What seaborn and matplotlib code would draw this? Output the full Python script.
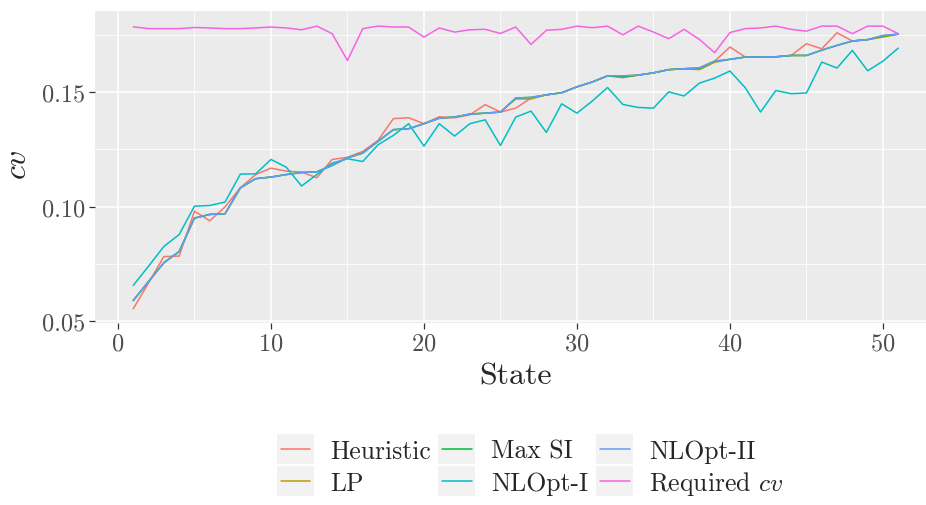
import numpy as np
import pandas as pd
import matplotlib
matplotlib.use("Agg")
import matplotlib.pyplot as plt
import seaborn as sns
from matplotlib.patches import Rectangle
from matplotlib.lines import Line2D
from matplotlib.legend_handler import HandlerBase
from matplotlib.ticker import FixedLocator

states = list(range(1, 52))

heuristic = [0.0554, 0.0667, 0.0782, 0.0784, 0.0980, 0.0938, 0.0999, 0.1082, 0.1140, 0.1168,
             0.1155, 0.1151, 0.1126, 0.1206, 0.1215, 0.1241, 0.1289, 0.1384, 0.1388, 0.1362,
             0.1392, 0.1388, 0.1401, 0.1445, 0.1413, 0.1430, 0.1474, 0.1488, 0.1497, 0.1523,
             0.1544, 0.1571, 0.1571, 0.1574, 0.1584, 0.1598, 0.1602, 0.1606, 0.1635, 0.1697,
             0.1653, 0.1653, 0.1654, 0.1660, 0.1711, 0.1689, 0.1759, 0.1723, 0.1729, 0.1747, 0.1753]

lp = [0.0590, 0.0673, 0.0755, 0.0804, 0.0950, 0.0966, 0.0969, 0.1082, 0.1122, 0.1129,
      0.1140, 0.1149, 0.1152, 0.1180, 0.1213, 0.1234, 0.1285, 0.1336, 0.1340, 0.1362,
      0.1386, 0.1391, 0.1404, 0.1408, 0.1413, 0.1470, 0.1470, 0.1488, 0.1497, 0.1523,
      0.1544, 0.1571, 0.1563, 0.1574, 0.1584, 0.1598, 0.1602, 0.1598, 0.1630, 0.1643,
      0.1653, 0.1653, 0.1654, 0.1660, 0.1660, 0.1683, 0.1704, 0.1723, 0.1729, 0.1740, 0.1753]

max_si = [0.0590, 0.0673, 0.0755, 0.0804, 0.0950, 0.0966, 0.0969, 0.1082, 0.1122, 0.1129,
          0.1140, 0.1149, 0.1152, 0.1180, 0.1213, 0.1234, 0.1285, 0.1336, 0.1340, 0.1362,
          0.1386, 0.1391, 0.1404, 0.1408, 0.1413, 0.1474, 0.1477, 0.1488, 0.1497, 0.1523,
          0.1544, 0.1571, 0.1567, 0.1574, 0.1584, 0.1598, 0.1602, 0.1604, 0.1635, 0.1643,
          0.1653, 0.1653, 0.1654, 0.1660, 0.1660, 0.1683, 0.1704, 0.1723, 0.1729, 0.1745, 0.1753]

nlopt_1 = [0.0656, 0.0740, 0.0826, 0.0878, 0.1002, 0.1005, 0.1020, 0.1142, 0.1143, 0.1206,
           0.1172, 0.1090, 0.1140, 0.1190, 0.1209, 0.1197, 0.1270, 0.1311, 0.1362, 0.1264,
           0.1362, 0.1308, 0.1362, 0.1379, 0.1267, 0.1391, 0.1417, 0.1324, 0.1449, 0.1408,
           0.1461, 0.1520, 0.1446, 0.1433, 0.1430, 0.1501, 0.1483, 0.1539, 0.1561, 0.1592,
           0.1519, 0.1413, 0.1507, 0.1493, 0.1496, 0.1631, 0.1605, 0.1682, 0.1593, 0.1635, 0.1692]

nlopt_2 = [0.0590, 0.0673, 0.0755, 0.0804, 0.0950, 0.0966, 0.0969, 0.1082, 0.1122, 0.1129,
           0.1140, 0.1149, 0.1152, 0.1180, 0.1213, 0.1234, 0.1285, 0.1336, 0.1340, 0.1362,
           0.1386, 0.1391, 0.1404, 0.1408, 0.1413, 0.1474, 0.1477, 0.1488, 0.1497, 0.1523,
           0.1544, 0.1571, 0.1571, 0.1574, 0.1584, 0.1598, 0.1602, 0.1606, 0.1635, 0.1643,
           0.1653, 0.1653, 0.1654, 0.1660, 0.1660, 0.1683, 0.1704, 0.1723, 0.1729, 0.1747, 0.1753]

required_cv = [0.1785, 0.1777, 0.1777, 0.1777, 0.1782, 0.1780, 0.1777, 0.1777, 0.1780, 0.1784,
               0.1780, 0.1772, 0.1788, 0.1755, 0.1638, 0.1777, 0.1788, 0.1784, 0.1784, 0.1740,
               0.1780, 0.1762, 0.1772, 0.1774, 0.1756, 0.1784, 0.1708, 0.1770, 0.1774, 0.1788,
               0.1781, 0.1788, 0.1750, 0.1788, 0.1762, 0.1733, 0.1774, 0.1730, 0.1672, 0.1760,
               0.1777, 0.1780, 0.1788, 0.1774, 0.1766, 0.1788, 0.1788, 0.1755, 0.1788, 0.1788, 0.1755]

series_names = ["Heuristic", "LP", "Max SI", "NLOpt-I", "NLOpt-II", "Required $cv$"]
series_values = [heuristic, lp, max_si, nlopt_1, nlopt_2, required_cv]
colors = ["#F8766D", "#B79F00", "#00BA38", "#00BFC4", "#619CFF", "#F564E3"]

x_ticks = [0, 10, 20, 30, 40, 50]
y_ticks = [0.05, 0.10, 0.15]
y_tick_labels = ["0.05", "0.10", "0.15"]

df = pd.DataFrame({
    "State": np.tile(states, len(series_names)),
    "cv": np.concatenate(series_values),
    "Method": np.repeat(series_names, len(states)),
})

sns.set_theme(style="darkgrid")
plt.rcParams["font.family"] = ["cmr10", "DejaVu Serif"]
plt.rcParams["mathtext.fontset"] = "cm"
plt.rcParams["axes.unicode_minus"] = False
plt.rcParams["axes.formatter.use_mathtext"] = True

W, H = 926, 506
fig = plt.figure(figsize=(W / 100, H / 100), dpi=100)
fig.patch.set_facecolor("white")
ax = fig.add_axes([95 / W, 1 - 324 / H, 841.5 / W, 312 / H])
ax.set_facecolor("#EBEBEB")

sns.lineplot(data=df, x="State", y="cv", hue="Method", hue_order=series_names,
             palette=colors, linewidth=1.1, ax=ax, legend=False, estimator=None)

ax.set_xlim(-1.5, 53.5)
ax.set_ylim(0.0492, 0.1854)
ax.xaxis.set_major_locator(FixedLocator(x_ticks))
ax.xaxis.set_minor_locator(FixedLocator([5, 15, 25, 35, 45]))
ax.yaxis.set_major_locator(FixedLocator(y_ticks))
ax.set_yticklabels(y_tick_labels)
ax.yaxis.set_minor_locator(FixedLocator([0.075, 0.125, 0.175]))
ax.grid(which="major", color="white", linewidth=1.1)
ax.grid(which="minor", color="white", linewidth=0.55)
ax.set_axisbelow(True)
for s in ax.spines.values():
    s.set_visible(False)
ax.tick_params(which="major", length=4, width=0.9, color="#333333",
               labelsize=17.5, labelcolor="#4D4D4D", pad=3,
               bottom=True, left=True)
ax.tick_params(which="minor", length=0, bottom=False, left=False)

ax.set_xlabel("State", fontsize=23)
ax.set_ylabel("$cv$", fontsize=23)
ax.xaxis.set_label_coords(0.5, -0.125)
ax.yaxis.set_label_coords(-0.075, 0.51)


class KeyHandler(HandlerBase):
    def create_artists(self, legend, orig_handle, xdescent, ydescent, width, height,
                       fontsize, trans):
        rect = Rectangle((-xdescent, -ydescent), width, height, facecolor="#F2F2F2",
                         edgecolor="none", transform=trans)
        y = -ydescent + height / 2
        line = Line2D([-xdescent + 0.1 * width, -xdescent + 0.9 * width], [y, y],
                      color=orig_handle.get_color(), linewidth=1.1, transform=trans)
        return [rect, line]


handles = [Line2D([], [], color=c) for c in colors]
leg = fig.legend(handles, series_names, loc="upper left",
                 bbox_to_anchor=(277 / W, 1 - 435 / H), ncol=3, frameon=False,
                 fontsize=18.5, handlelength=1.44, handleheight=1.44,
                 handletextpad=0.62, columnspacing=0.3, labelspacing=0.06,
                 borderpad=0, borderaxespad=0,
                 handler_map={Line2D: KeyHandler()})

fig.savefig("out.png", dpi=100)
